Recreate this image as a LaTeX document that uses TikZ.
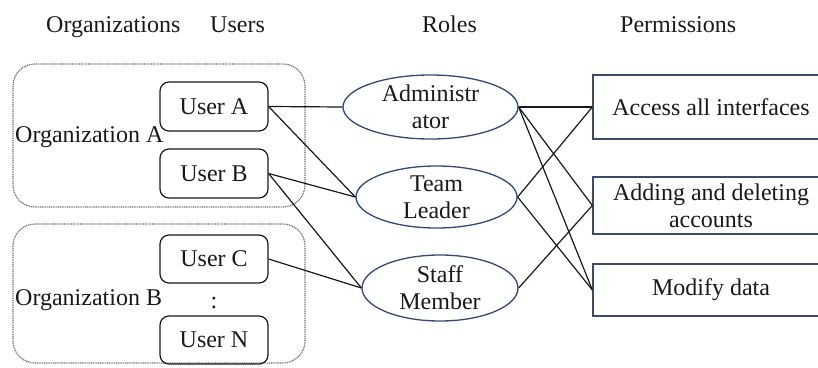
\documentclass[tikz,border=0pt]{standalone}
\usepackage{fontspec}
\setmainfont{Liberation Serif}
\usetikzlibrary{shapes.geometric}
\definecolor{navy}{RGB}{47,72,120}
\definecolor{slate}{RGB}{60,75,105}
\definecolor{ink}{RGB}{25,25,25}
\begin{document}
\begin{tikzpicture}[x=1pt,y=-1pt,
  every node/.style={font=\fontsize{24}{27}\selectfont, text=ink},
  orgbox/.style={draw=gray!85!black, line width=1.2pt, dash pattern=on 1pt off 0.8pt, rounded corners=22pt},
  userbox/.style={draw=ink, line width=1.2pt, rounded corners=9pt, minimum width=108pt, inner sep=0pt},
  rolebox/.style={ellipse, draw=navy, line width=1.3pt, align=center, inner sep=0pt,
                  font=\fontsize{24}{27}\selectfont},
  permbox/.style={draw=slate, line width=1.3pt, align=center, inner sep=0pt, minimum width=236pt,
                  font=\fontsize{24}{27}\selectfont},
  link/.style={draw=ink, line width=1.2pt},
  header/.style={anchor=base west, inner sep=0pt}]
\useasboundingbox (0,0) rectangle (818,367);
\clip (0,0) rectangle (818,367);

% column headers
\node[header] (hOrg)  at (46,32)  {Organizations};
\node[header] (hUser) at (210,32) {Users};
\node[header] (hRole) at (422,32) {Roles};
\node[header] (hPerm) at (620,32) {Permissions};

% organizations
\draw[orgbox] (13,64) rectangle (305,207);
\draw[orgbox] (13,224) rectangle (305,363);
\node[header] (orgA) at (15,142) {Organization A};
\node[header] (orgB) at (15,305) {Organization B};

% users
\node[userbox, minimum height=49pt] (ua) at (214,106.5) {User A};
\node[userbox, minimum height=49pt] (ub) at (214,173.5) {User B};
\node[userbox, minimum height=48pt] (uc) at (214,259)   {User C};
\node[userbox, minimum height=48pt] (un) at (214,340)   {User N};
\node[inner sep=0pt] (dots) at (214,303) {:};

% roles
\node[rolebox, minimum width=175pt, minimum height=64pt] (adm)   at (430.5,107) {Administr\\ator};
\node[rolebox, minimum width=161pt, minimum height=62pt] (team)  at (436.5,197) {Team\\Leader};
\node[rolebox, minimum width=156pt, minimum height=66pt] (staff) at (440,288)   {Staff\\Member};

% permissions (boxes run past the right edge)
\node[permbox, minimum height=64pt] (pall) at (711,107)   {Access all interfaces};
\node[permbox, minimum height=57pt] (padd) at (711,205.5) {Adding and deleting\\accounts};
\node[permbox, minimum height=52pt] (pmod) at (711,290)   {Modify data};

% user -- role assignments
\draw[link] (ua.east) -- (adm.west);
\draw[link] (ua.east) -- (team.west);
\draw[link] (ub.east) -- (team.west);
\draw[link] (ub.east) -- (staff.west);
\draw[link] (uc.east) -- (staff.west);

% role -- permission assignments
\draw[link] (adm.east) -- (pall.west);
\draw[link] (adm.east) -- (padd.west);
\draw[link] (adm.east) -- (pmod.west);
\draw[link] (team.east) -- (pall.west);
\draw[link] (team.east) -- (pmod.west);
\draw[link] (staff.east) -- (padd.west);
\end{tikzpicture}
\end{document}
